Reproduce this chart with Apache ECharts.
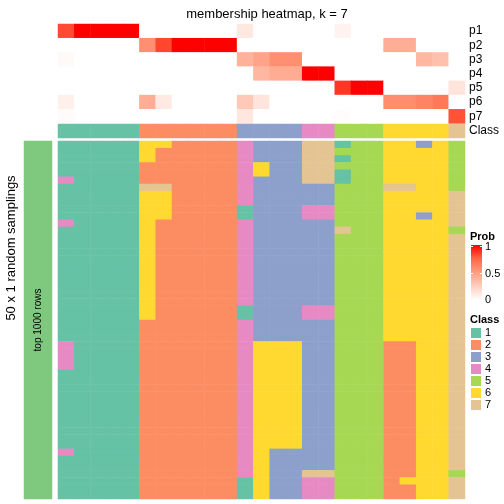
<!DOCTYPE html>
<html><head><meta charset="utf-8">
<script src="https://cdn.jsdelivr.net/npm/echarts@6/dist/echarts.min.js"></script>
<style>html,body{margin:0;padding:0;background:#fff}#c{width:504px;height:504px}</style>
</head><body><div id="c"></div>
<script>
const columns = Array.from({length:25}, (_, i) => 'S' + (i + 1));
const probRows = ['p1','p2','p3','p4','p5','p6','p7'];
const p1 = [0.82,1,1,1,1, 0,0,0,0,0,0, 0.12,0,0,0, 0,0, 0.06,0,0, 0,0,0,0, 0];
const p2 = [0,0,0,0,0, 0.57,0.83,1,1,1,1, 0,0,0,0, 0,0, 0,0,0, 0.42,0.42,0,0, 0];
const p3 = [0.03,0,0,0,0, 0,0,0,0,0,0, 0.4,0.47,0.57,0.57, 0,0, 0,0,0, 0,0,0.37,0.32, 0];
const p4 = [0,0,0,0,0, 0,0,0,0,0,0, 0,0.37,0.43,0.43, 1,1, 0,0,0, 0,0,0,0, 0];
const p5 = [0,0,0,0,0, 0,0,0,0,0,0, 0,0,0,0, 0,0, 0.87,1,1, 0,0,0,0, 0.14];
const p6 = [0.08,0,0,0,0, 0.42,0.11,0,0,0,0, 0.28,0.14,0,0, 0,0, 0,0,0, 0.58,0.58,0.62,0.67, 0];
const p7 = [0.02,0,0,0,0, 0,0,0,0,0,0, 0.13,0,0,0, 0,0, 0.015,0,0, 0,0,0,0, 0.8];
const classRow = [1,1,1,1,1, 2,2,2,2,2,2, 3,3,3,3, 4,4, 5,5,5, 6,6,6,6, 7];
const classNames = ['1','2','3','4','5','6','7'];
const classColors = ['#66C2A5','#FC8D62','#8DA0CB','#E78AC3','#A6D854','#FFD92F','#E5C494'];
// 50 random samplings (rows), each string = class of the 25 columns
const samplings = [
"1111166222243337715566365",
"1111162222243337755566665",
"1111162222243337715566665",
"1111122222246337755566665",
"1111122222246337715566665",
"4111122222243337715566665",
"1111177222243333355577665",
"1111166222243333355566667",
"1111166222243333355566667",
"1111166222213334455566667",
"1111166222213334455566367",
"4111162222243333355566667",
"1111162222243333375566665",
"1111162222243333355566667",
"1111162222243333355566667",
"1111162222243333355566667",
"1111162222243333355566667",
"1111162222243333355566667",
"1111162222243333355566667",
"1111162222243333355566667",
"1111162222243333355566667",
"1111162222243333355566667",
"1111162222243333355566667",
"1111162222213334455566667",
"1111162222213334455566667",
"1111122222243333355566667",
"1111122222243333355566667",
"1111122222243333355566667",
"4111122222246663355522667",
"4111122222246663355522667",
"4111122222246663355522667",
"4111122222246663355522667",
"1111122222246663355522667",
"1111122222246663355522667",
"1111122222246663355522667",
"1111122222246663355522667",
"1111122222246663355522667",
"1111122222246663355522667",
"1111122222246663355522667",
"1111122222246663355522667",
"1111122222246663355522667",
"1111122222246663355522667",
"1111122222246663355522667",
"4111122222246333355522667",
"1111122222246333355522667",
"1111122222246333355522667",
"1111122222246337755522665",
"1111122222216334455526667",
"1111122222216334455522667",
"1111122222216334455522667"
];
const samplingRows = samplings.map((_, i) => 'r' + (i + 1));

const probs = [p1,p2,p3,p4,p5,p6,p7];
const probData = [];
probs.forEach((arr, r) => arr.forEach((v, c) => probData.push([c, r, v])));
const classData = classRow.map((v, c) => [c, 0, v]);
const sampData = [];
samplings.forEach((s, r) => s.split('').forEach((ch, c) => sampData.push([c, r, Number(ch)])));

const FONT = 'Liberation Sans, Arial, sans-serif';
const L = 58, W = 407;
const hiddenX = (gi) => ({type:'category', gridIndex:gi, data:columns, show:false});
const chart = echarts.init(document.getElementById('c'), null, {renderer:'canvas'});
const probStops = ['#FFFFFF','#FFCFBF','#FF9E81','#FF6846','#FF0000'];
const ylab = {show:true, interval:0, color:'#000', fontSize:12, fontFamily:FONT, margin:4};
const txt = (x, y, s, font, align) => ({type:'text', x:x, y:y,
  style:{text:s, font:font, fill:'#000', align:align || 'left', verticalAlign:'middle'}});

chart.setOption({
  animation:false,
  title:{text:'membership heatmap, k = 7', left:262, textAlign:'center', top:3,
    textStyle:{fontSize:13, fontWeight:'normal', color:'#000', fontFamily:FONT}},
  grid:[
    {left:L, width:W, top:24, height:99.5},
    {left:L, width:W, top:124, height:14},
    {left:L, width:W, top:141, height:358},
    {left:24, width:28, top:141, height:358}
  ],
  xAxis:[hiddenX(0), hiddenX(1), hiddenX(2), {type:'category', gridIndex:3, data:['a'], show:false}],
  yAxis:[
    {type:'category', gridIndex:0, data:probRows, inverse:true, position:'right',
      axisLine:{show:false}, axisTick:{show:false}, splitLine:{show:false}, axisLabel:ylab},
    {type:'category', gridIndex:1, data:['Class'], position:'right',
      axisLine:{show:false}, axisTick:{show:false}, splitLine:{show:false}, axisLabel:ylab},
    {type:'category', gridIndex:2, data:samplingRows, inverse:true, show:false},
    {type:'category', gridIndex:3, data:['top 1000 rows'], show:false}
  ],
  visualMap:[
    {type:'continuous', min:0, max:1, seriesIndex:0, show:false, inRange:{color:probStops}},
    {type:'piecewise', seriesIndex:[1,2], show:false,
      categories:[1,2,3,4,5,6,7], inRange:{color:classColors}}
  ],
  series:[
    {type:'heatmap', xAxisIndex:0, yAxisIndex:0, data:probData, emphasis:{disabled:true}, itemStyle:{borderWidth:0}},
    {type:'heatmap', xAxisIndex:1, yAxisIndex:1, data:classData, emphasis:{disabled:true}, itemStyle:{borderWidth:0}},
    {type:'heatmap', xAxisIndex:2, yAxisIndex:2, data:sampData, emphasis:{disabled:true}, itemStyle:{borderWidth:0}},
    {type:'heatmap', xAxisIndex:3, yAxisIndex:3, data:[[0,0,1]], emphasis:{disabled:true},
      itemStyle:{color:'#7FC97F', borderWidth:0},
      label:{show:true, rotate:90, formatter:'top 1000 rows', fontSize:10, color:'#000', fontFamily:FONT}}
  ],
  graphic:[
    {type:'text', x:11, y:248, rotation:Math.PI/2,
      style:{text:'50 x 1 random samplings', font:'13px '+FONT, fill:'#000', align:'center', verticalAlign:'middle'}},
    txt(470, 237, 'Prob', 'bold 11px '+FONT),
    {type:'rect', shape:{x:471, y:245, width:11, height:55},
      style:{fill:new echarts.graphic.LinearGradient(0,0,0,1,[
        {offset:0,color:'#FF0000'},{offset:0.25,color:'#FF6846'},{offset:0.5,color:'#FF9E81'},
        {offset:0.75,color:'#FFCFBF'},{offset:1,color:'#FFFFFF'}])}},
    {type:'line', shape:{x1:471,y1:246.5,x2:473,y2:246.5}, style:{stroke:'#fff', lineWidth:1}},
    {type:'line', shape:{x1:480,y1:246.5,x2:482,y2:246.5}, style:{stroke:'#fff', lineWidth:1}},
    {type:'line', shape:{x1:471,y1:273.5,x2:473,y2:273.5}, style:{stroke:'#fff', lineWidth:1}},
    {type:'line', shape:{x1:480,y1:273.5,x2:482,y2:273.5}, style:{stroke:'#fff', lineWidth:1}},
    txt(485, 247, '1', '11px '+FONT),
    txt(485, 274, '0.5', '11px '+FONT),
    txt(485, 300, '0', '11px '+FONT),
    txt(470, 320, 'Class', 'bold 11px '+FONT)
  ].concat(classNames.flatMap((n, i) => [
    {type:'rect', shape:{x:471, y:328 + i*12, width:10, height:10}, style:{fill:classColors[i]}},
    txt(485, 333 + i*12, n, '11px '+FONT)
  ]))
});
</script></body></html>
